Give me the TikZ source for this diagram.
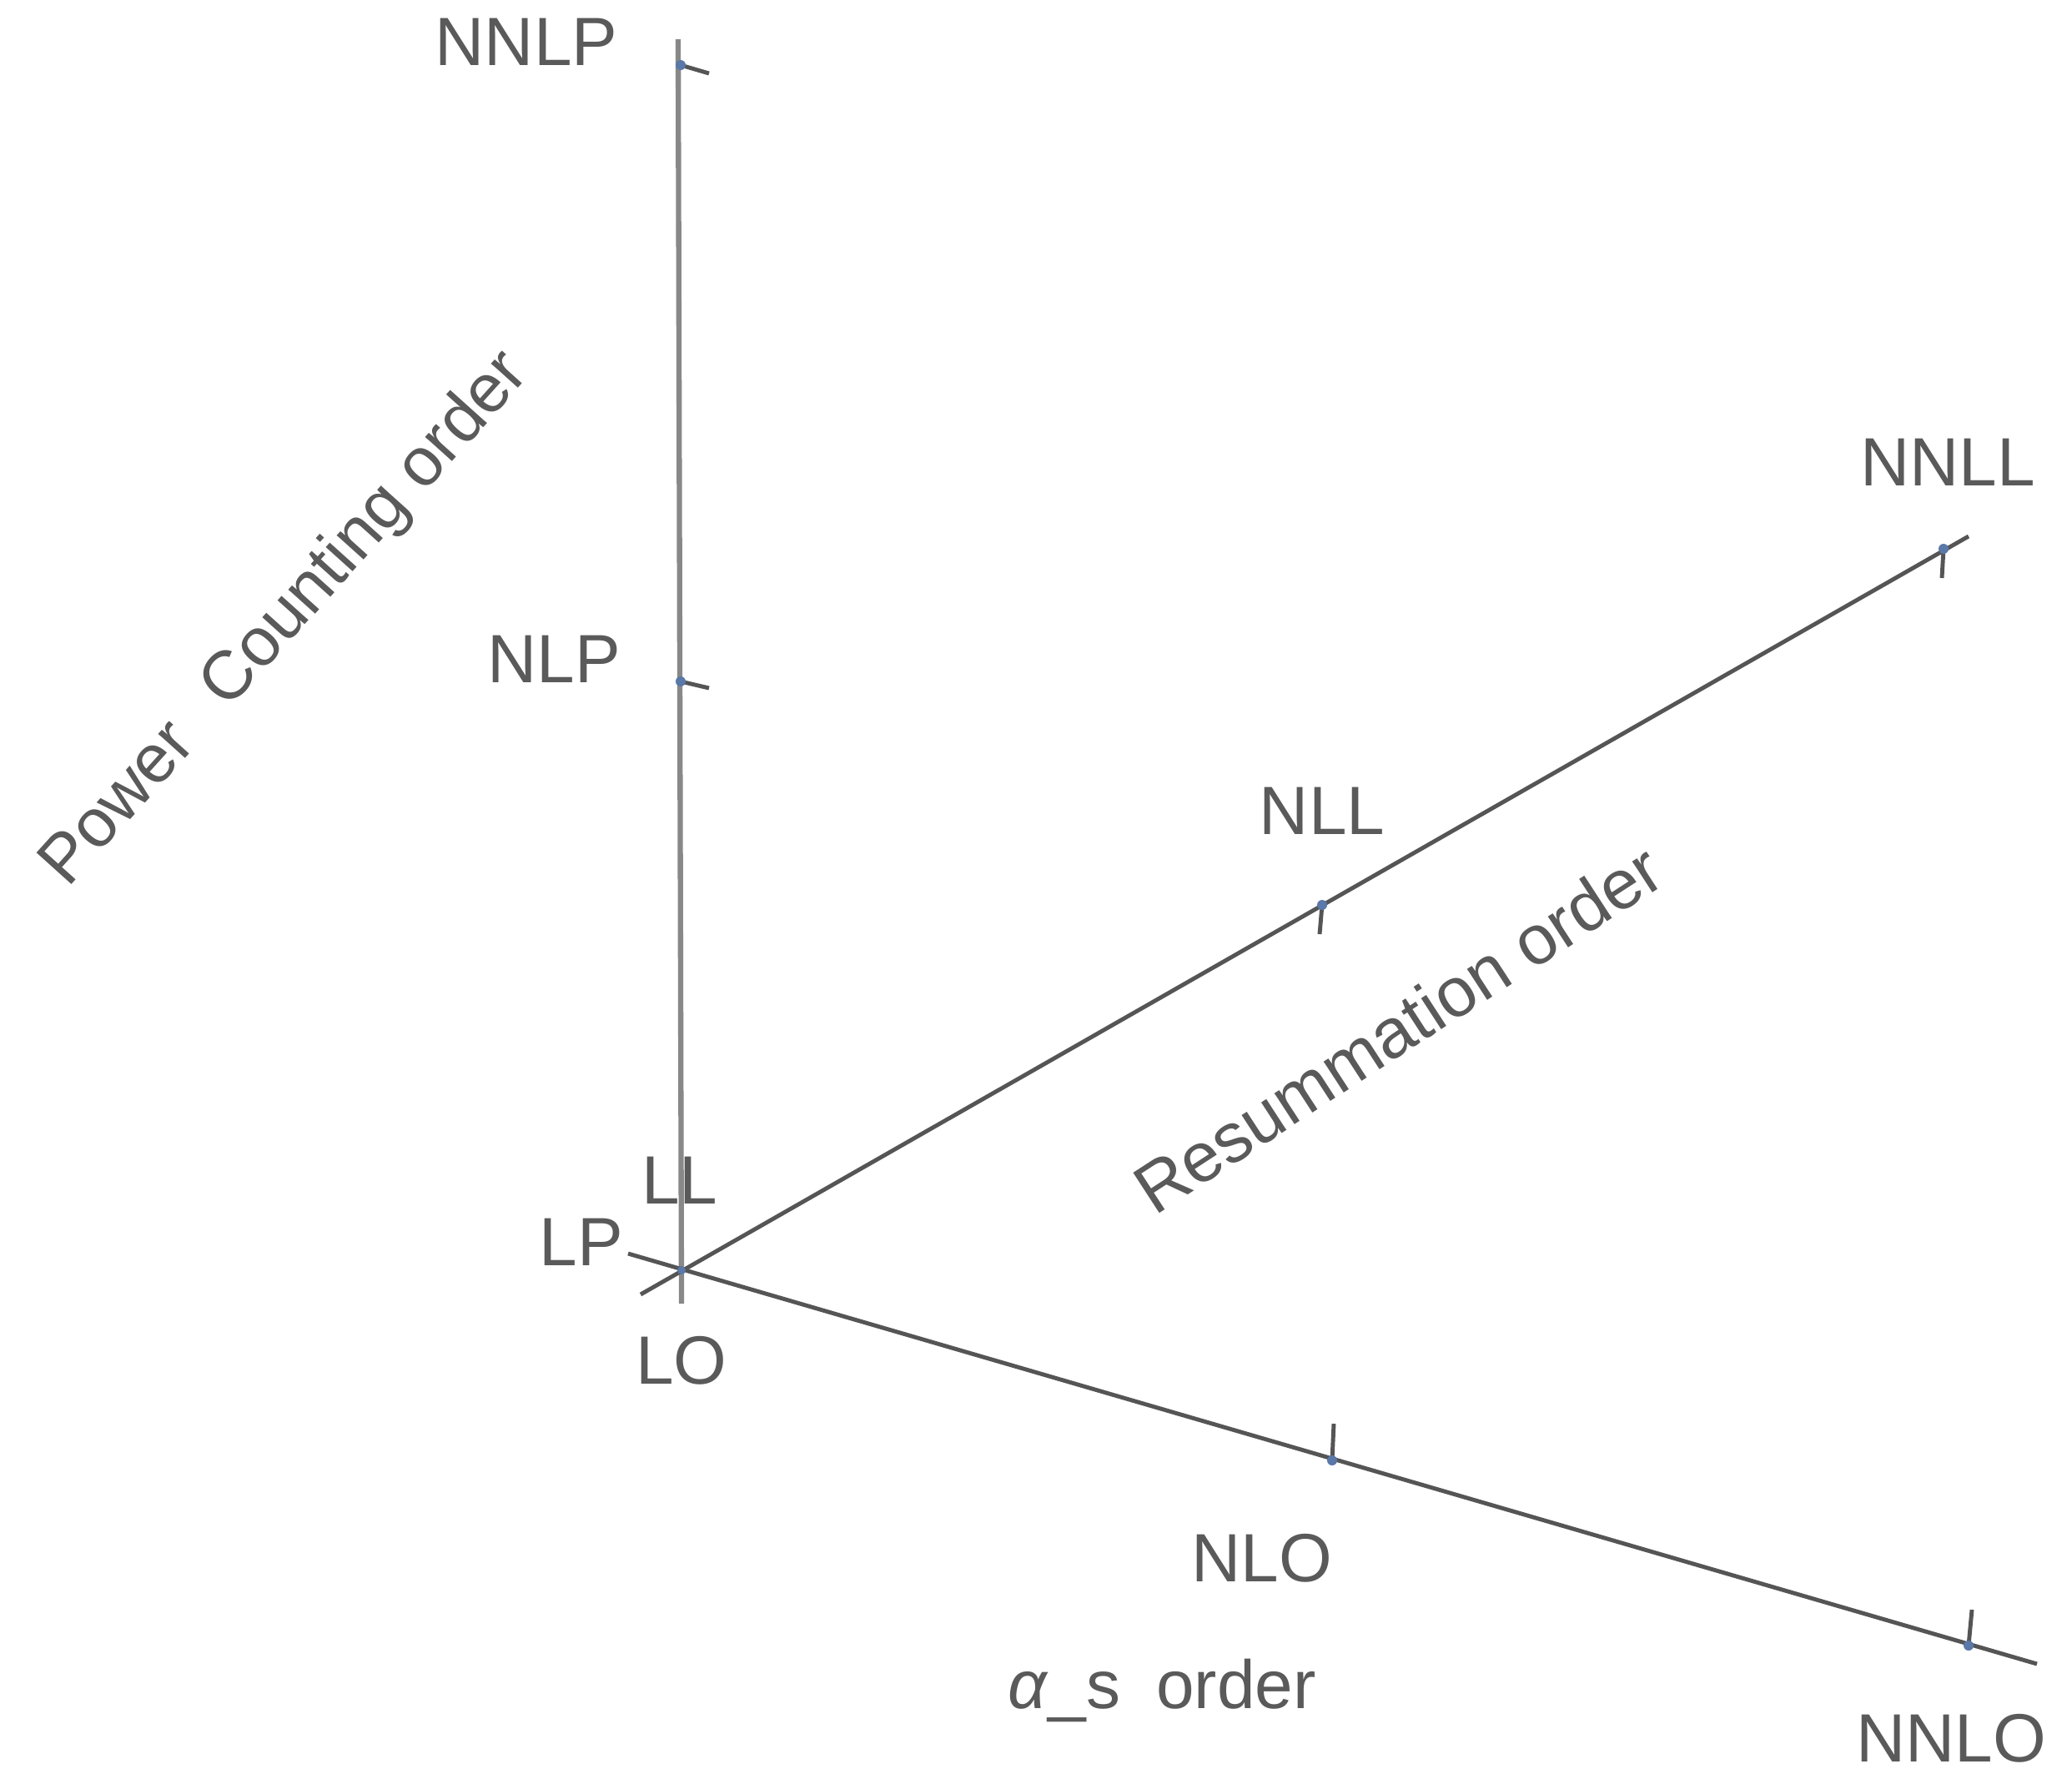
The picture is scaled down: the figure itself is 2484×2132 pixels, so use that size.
\documentclass[tikz,border=0pt]{standalone}
\usepackage{fontspec}
\setmainfont{Liberation Sans}
\begin{document}
\begin{tikzpicture}[x=0.01cm,y=-0.01cm,
  lbl/.style={inner sep=0pt,outer sep=0pt,text=txtgray,font=\fontsize{23.3}{28}\selectfont},
  axisline/.style={draw=linegray,line width=1.4pt},
  vaxis/.style={draw=vgray,line width=1.8pt},
  tickline/.style={draw=linegray,line width=1.4pt},
  tickdot/.style={fill=dotblue,draw=none}]
\definecolor{txtgray}{HTML}{5A5A5A}
\definecolor{linegray}{HTML}{555555}
\definecolor{vgray}{HTML}{888888}
\definecolor{dotblue}{HTML}{5A78A8}
\useasboundingbox[fill=white] (0,0) rectangle (2484,2132);
% axis points
\coordinate (O) at (817,1523);
\coordinate (vtop) at (813,47);
\coordinate (vbot) at (817,1563);
\coordinate (rstart) at (768,1552);
\coordinate (rend) at (2360,643);
\coordinate (astart) at (753,1503);
\coordinate (aend) at (2442,1995);
% tick points
\coordinate (tNNLP) at (816,78);   \coordinate (eNNLP) at (850,88);
\coordinate (tNLP) at (816,817);   \coordinate (eNLP) at (850,825);
\coordinate (tNLL) at (1585,1085); \coordinate (eNLL) at (1582,1120);
\coordinate (tNNLL) at (2330,658); \coordinate (eNNLL) at (2328,693);
\coordinate (tNLO) at (1597,1751); \coordinate (eNLO) at (1599,1707);
\coordinate (tNNLO) at (2360,1973);\coordinate (eNNLO) at (2364,1930);
% axes
\draw[vaxis] (vtop) -- (vbot);
\draw[axisline] (rstart) -- (rend);
\draw[axisline] (astart) -- (aend);
% ticks
\foreach \t in {NNLP,NLP,NLL,NNLL,NLO,NNLO}{
  \draw[tickline] (t\t) -- (e\t);
  \fill[tickdot] (t\t) circle (6);
}
\fill[tickdot] (O) circle (5);
% labels
\node[lbl,anchor=base] (lNNLP) at (631,78) {NNLP};
\node[lbl,anchor=base] (lNLP) at (664,818) {NLP};
\node[lbl,anchor=base] (lNNLL) at (2335,582) {NNLL};
\node[lbl,anchor=base] (lNLL) at (1585,1000) {NLL};
\node[lbl,anchor=base] (lLL) at (815,1443) {LL};
\node[lbl,anchor=base] (lLP) at (697,1517) {LP};
\node[lbl,anchor=base] (lLO) at (817,1659) {LO};
\node[lbl,anchor=base] (lNLO) at (1513,1896) {NLO};
\node[lbl,anchor=base] (lNNLO) at (2339,2112) {NNLO};
\node[lbl,anchor=base west] (las) at (1208,2048) {\textit{α}\_s\hspace{0.25em} order};
\node[lbl,rotate=48] (lpc) at (343,743) {Power\hspace{0.4em} Counting order};
\node[lbl,rotate=33,font=\fontsize{23.8}{28}\selectfont] (lres) at (1676,1233) {Resummation order};
\end{tikzpicture}
\end{document}
